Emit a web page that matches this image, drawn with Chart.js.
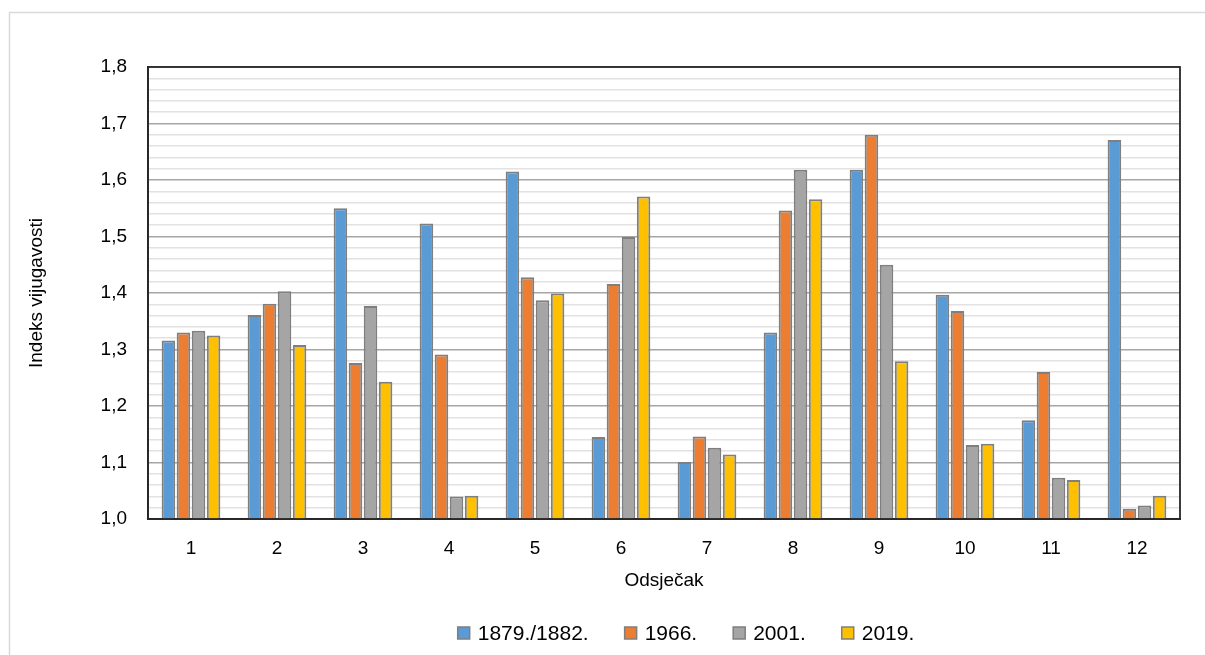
<!DOCTYPE html>
<html>
<head>
<meta charset="utf-8">
<script src="https://cdn.jsdelivr.net/npm/chart.js@4/dist/chart.umd.min.js"></script>
<style>
  html, body { margin: 0; padding: 0; background: #ffffff; }
  #wrap { position: relative; width: 1205px; height: 655px; }
</style>
</head>
<body>
<div id="wrap"><canvas id="c" width="1205" height="655"></canvas></div>
<script>
const categories = ['1', '2', '3', '4', '5', '6', '7', '8', '9', '10', '11', '12'];
const seriesNames = ['1879./1882.', '1966.', '2001.', '2019.'];
const s1879 = [1.316, 1.361, 1.550, 1.523, 1.615, 1.145, 1.101, 1.330, 1.618, 1.397, 1.175, 1.671];
const s1966 = [1.330, 1.381, 1.276, 1.291, 1.428, 1.416, 1.146, 1.546, 1.680, 1.368, 1.260, 1.018];
const s2001 = [1.333, 1.403, 1.377, 1.040, 1.387, 1.499, 1.126, 1.618, 1.450, 1.131, 1.073, 1.024];
const s2019 = [1.325, 1.308, 1.243, 1.041, 1.399, 1.571, 1.114, 1.566, 1.279, 1.133, 1.069, 1.041];
const yMin = 1.0, yMax = 1.8, yMinorStep = 0.02;
const yTitle = 'Indeks vijugavosti';
const xTitle = 'Odsječak';

const colors = ['#5b9bd5', '#ed7d31', '#a5a5a5', '#ffc000'];
const allSeries = [s1879, s1966, s2001, s2019];
const FONT = 'Liberation Sans, Arial, sans-serif';
const FS = 19;

function isMajor(v) { return Math.abs(v * 10 - Math.round(v * 10)) < 1e-6; }

const framePlugin = {
  id: 'frame',
  beforeDraw(chart) {
    const ctx = chart.ctx;
    ctx.save();
    ctx.fillStyle = '#ffffff';
    ctx.fillRect(0, 0, chart.width, chart.height);
    ctx.strokeStyle = '#d9d9d9';
    ctx.lineWidth = 1.5;
    ctx.strokeRect(9.5, 12.5, 1400, 1400);
    ctx.restore();
  },
  afterDraw(chart) {
    const a = chart.chartArea;
    const ctx = chart.ctx;
    ctx.save();
    ctx.strokeStyle = '#262626';
    ctx.lineWidth = 1.8;
    ctx.strokeRect(a.left, a.top, a.right - a.left, a.bottom - a.top);

    // legend (centred on the full Excel chart frame, which extends past the window)
    const lfs = 21;
    ctx.font = lfs + 'px ' + FONT;
    const box = 12, boxGap = 8, itemGap = 36;
    const widths = chart.data.datasets.map(ds => ctx.measureText(ds.label).width);
    let total = 0;
    widths.forEach((w, i) => { total += box + boxGap + w + (i < widths.length - 1 ? itemGap : 0); });
    let x = 686 - total / 2;
    const cy = 633;
    ctx.textBaseline = 'middle';
    ctx.textAlign = 'left';
    chart.data.datasets.forEach((ds, i) => {
      ctx.fillStyle = ds.backgroundColor;
      ctx.fillRect(x, cy - box / 2, box, box);
      ctx.strokeStyle = '#7f7f7f';
      ctx.lineWidth = 1.5;
      ctx.strokeRect(x, cy - box / 2, box, box);
      ctx.fillStyle = '#000000';
      ctx.fillText(ds.label, x + box + boxGap, cy + 1);
      x += box + boxGap + widths[i] + itemGap;
    });
    ctx.restore();
  }
};

new Chart(document.getElementById('c'), {
  type: 'bar',
  data: {
    labels: categories,
    datasets: allSeries.map((d, i) => ({
      label: seriesNames[i],
      data: d,
      backgroundColor: colors[i],
      borderColor: '#7f7f7f',
      borderWidth: 2,
      categoryPercentage: 0.7,
      barPercentage: 0.9
    }))
  },
  options: {
    responsive: false,
    animation: false,
    layout: { padding: { left: 0, right: 25, top: 67, bottom: 56 } },
    plugins: {
      tooltip: { enabled: false },
      legend: { display: false }
    },
    scales: {
      x: {
        grid: { display: false, drawTicks: false },
        border: { display: true, color: '#262626', width: 1.8 },
        ticks: { font: { family: FONT, size: FS }, color: '#000000', padding: 18, maxRotation: 0 },
        title: { display: true, text: xTitle, font: { family: FONT, size: FS }, color: '#000000', padding: { top: 0, bottom: 6.6 } },
        afterFit(scale) { scale.height = 80; }
      },
      y: {
        min: yMin,
        max: yMax,
        border: { display: true, color: '#262626', width: 1.8 },
        grid: {
          drawTicks: false,
          color: (ctx) => (ctx.tick && isMajor(ctx.tick.value)) ? '#a6a6a6' : '#e2e2e2',
          lineWidth: 1.5
        },
        ticks: {
          stepSize: yMinorStep,
          autoSkip: false,
          padding: 21,
          font: { family: FONT, size: FS },
          color: '#000000',
          callback: (v) => isMajor(v) ? v.toFixed(1).replace('.', ',') : ''
        },
        title: { display: true, text: yTitle, font: { family: FONT, size: FS }, color: '#000000', padding: { top: 25, bottom: 0 } },
        afterFit(scale) { scale.width = 148; }
      }
    }
  },
  plugins: [framePlugin]
});
</script>
</body>
</html>
